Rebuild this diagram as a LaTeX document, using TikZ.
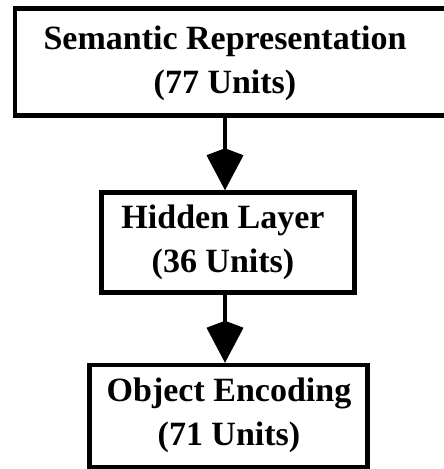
\documentclass[tikz,border=0pt]{standalone}
\usepackage{fontspec}
\setmainfont{Liberation Serif}
\usepackage{tikz}
\usetikzlibrary{arrows.meta}

\begin{document}
\begin{tikzpicture}[x=1pt, y=-1pt]
\tikzset{layer/.style = {shape=rectangle, draw, line width=4.5pt, inner sep=0pt}}
\tikzset{caption/.style = {align=center, inner sep=0pt, font=\fontsize{34}{44}\selectfont\bfseries}}
    \tikzset{feed/.style = {draw=black, line width=4.5pt, -{Kite[length=42pt, width=37pt, inset=7pt]}}}
\useasboundingbox (0,0) rectangle (444,469);
% the three layers of the network
\node[layer, minimum width=436pt, minimum height=107pt] (sem) at (233,62) {};
\node[layer, minimum width=253pt, minimum height=100pt] (hid) at (228,242.5) {};
\node[layer, minimum width=278pt, minimum height=102pt] (obj) at (228.5,416) {};
\node[caption] (semtxt) at (225,63) {Semantic Representation\\(77 Units)};
\node[caption] (hidtxt) at (223,242) {Hidden Layer\\(36 Units)};
\node[caption] (objtxt) at (229,415) {Object Encoding\\(71 Units)};

% Draw the feed-forward connections
\draw[feed] (semtxt |- sem.south) -- (semtxt |- hid.north);
\draw[feed] (semtxt |- hid.south) -- (semtxt |- obj.north);

\end{tikzpicture}
\end{document}
